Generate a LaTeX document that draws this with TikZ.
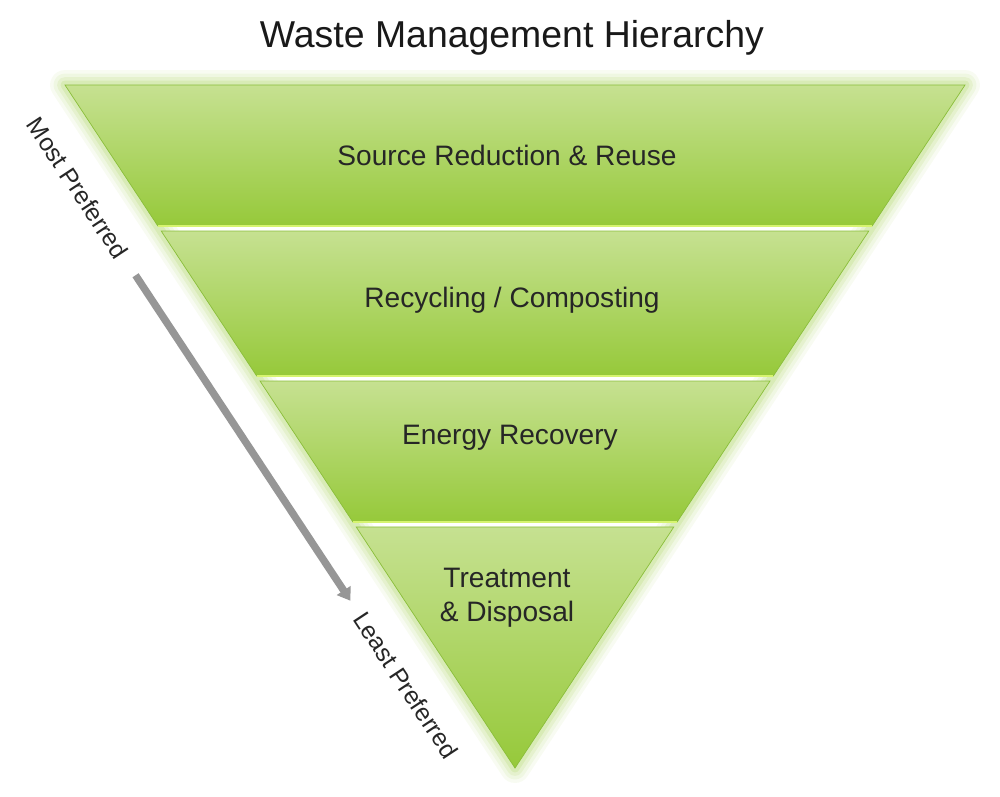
\documentclass[tikz,border=0pt]{standalone}
\usepackage{fontspec}
\setmainfont{Liberation Sans}
\usetikzlibrary{calc,arrows.meta}

\definecolor{bandtop}{RGB}{198,225,145}
\definecolor{bandbot}{RGB}{150,201,58}
\definecolor{bandedge}{RGB}{138,190,58}
\definecolor{sepcol}{RGB}{214,244,112}
\definecolor{glowcol}{RGB}{165,208,85}
\definecolor{arrowcol}{RGB}{150,150,150}

\begin{document}
\begin{tikzpicture}[x=0.02cm,y=-0.02cm,
    band/.style={top color=bandtop,bottom color=bandbot,draw=bandedge,line width=0.4pt},
    sepline/.style={draw=sepcol,line width=1.6pt},
    bandlabel/.style={font=\fontsize{16}{19.5}\selectfont,text=black!85,align=center},
    sidelabel/.style={font=\fontsize{14}{16}\selectfont,text=black!85,rotate=-56.6,inner sep=0pt},
    prefarrow/.style={line width=4.2pt,draw=arrowcol,-{Triangle[length=7pt,width=9pt]},
        shorten <=13pt,shorten >=9pt}]
    \useasboundingbox (0,0) rectangle (1000,796);

    \coordinate (tl) at (65,85);
    \coordinate (tr) at (965,85);
    \coordinate (apex) at (515,768);

    % soft glow round the triangle
    \foreach \w/\o in {17/0.08,13/0.1,9/0.14,5/0.2}
        \draw[glowcol,line width=\w pt,opacity=\o,line join=round] (tl) -- (tr) -- (apex) -- cycle;

    % the four bands, top to bottom
    \foreach \a/\b in {0/0.2064,0.2138/0.4261,0.4334/0.6398,0.6471/1}{
        \path[band] ($(tl)!\a!(apex)$) -- ($(tr)!\a!(apex)$)
            -- ($(tr)!\b!(apex)$) -- ($(tl)!\b!(apex)$) -- cycle;
    }
    \foreach \b in {0.2064,0.4261,0.6398}
        \draw[sepline] ($(tl)!\b!(apex)$) -- ($(tr)!\b!(apex)$);

    \node[font=\fontsize{21.3}{25}\selectfont,text=black!90] (title) at (512,38) {Waste Management Hierarchy};

    \node[bandlabel] (reduce) at (507,155) {Source Reduction \& Reuse};
    \node[bandlabel] (recycle) at (512,300) {Recycling / Composting};
    \node[bandlabel] (energy) at (510,438) {Energy Recovery};
    \node[bandlabel] (dispose) at (507,598) {Treatment\\\& Disposal};

    \node[sidelabel] (most) at (78,188) {Most Preferred};
    \node[sidelabel] (least) at (406,685) {Least Preferred};
    \draw[prefarrow] (most.east) -- (least.west);
\end{tikzpicture}
\end{document}
